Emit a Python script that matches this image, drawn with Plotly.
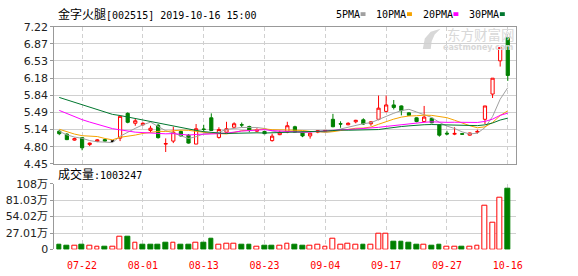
import numpy as np
import pandas as pd
import plotly.graph_objects as go

W, H = 578, 276

# ---------------- data ----------------
dates = ["07-17", "07-18", "07-19", "07-22", "07-23", "07-24", "07-25", "07-26", "07-29", "07-30",
         "07-31", "08-01", "08-02", "08-05", "08-06", "08-07", "08-08", "08-09", "08-12", "08-13",
         "08-14", "08-15", "08-16", "08-19", "08-20", "08-21", "08-22", "08-23", "08-26", "08-27",
         "08-28", "08-29", "08-30", "09-02", "09-03", "09-04", "09-05", "09-06", "09-09", "09-10",
         "09-11", "09-12", "09-16", "09-17", "09-18", "09-19", "09-20", "09-23", "09-24", "09-25",
         "09-26", "09-27", "09-30", "10-08", "10-09", "10-10", "10-11", "10-14", "10-15", "10-16"]

open_ = [5.11, 5.05, 4.93, 4.98, 4.84, 4.905, 4.94, 4.91, 4.97, 5.47,
         5.27, 5.24, 5.125, 5.23, 4.85, 4.91, 5.105, 5.03, 4.85, 5.155,
         5.38, 4.985, 5.09, 5.19, 5.24, 5.205, 5.11, 5.105, 4.92, 5.04,
         5.09, 5.20, 5.09, 5.015, 5.09, 5.11, 5.35, 5.26, 5.24, 5.30,
         5.34, 5.26, 5.35, 5.51, 5.64, 5.62, 5.48, 5.38, 5.305, 5.37,
         5.24, 5.07, 5.05, 5.06, 5.03, 5.09, 5.35, 5.86, 6.53, 7.00]
high = [5.13, 5.07, 4.98, 4.99, 4.88, 4.95, 4.96, 4.93, 5.41, 5.49,
        5.36, 5.29, 5.22, 5.255, 4.965, 5.20, 5.125, 5.05, 5.255, 5.24,
        5.47, 5.19, 5.30, 5.29, 5.285, 5.22, 5.17, 5.12, 5.06, 5.12,
        5.30, 5.22, 5.10, 5.08, 5.13, 5.13, 5.46, 5.31, 5.29, 5.34,
        5.37, 5.31, 5.83, 5.83, 5.74, 5.63, 5.49, 5.39, 5.62, 5.38,
        5.25, 5.12, 5.19, 5.07, 5.08, 5.14, 5.62, 6.18, 6.80, 7.00]
low = [5.03, 4.93, 4.92, 4.725, 4.81, 4.89, 4.90, 4.89, 4.91, 5.27,
       5.22, 5.22, 5.09, 4.96, 4.69, 4.87, 5.00, 4.86, 4.85, 5.10,
       5.115, 4.96, 5.08, 5.18, 5.19, 5.09, 5.09, 5.05, 4.90, 5.03,
       5.07, 5.08, 4.99, 4.96, 5.07, 5.10, 5.19, 5.18, 5.23, 5.27,
       5.24, 5.22, 5.33, 5.49, 5.55, 5.43, 5.42, 5.29, 5.29, 5.27,
       5.00, 5.03, 5.03, 5.04, 5.02, 5.06, 5.255, 5.78, 6.415, 6.125]
close = [5.06, 4.94, 4.96, 4.775, 4.87, 4.935, 4.91, 4.91, 5.41, 5.29,
         5.32, 5.27, 5.17, 4.98, 4.86, 5.09, 5.015, 4.87, 5.16, 5.145,
         5.125, 5.145, 5.16, 5.26, 5.235, 5.13, 5.14, 5.06, 5.01, 5.09,
         5.22, 5.09, 5.015, 5.07, 5.12, 5.125, 5.20, 5.255, 5.27, 5.33,
         5.255, 5.30, 5.575, 5.64, 5.59, 5.525, 5.43, 5.305, 5.395, 5.28,
         5.03, 5.055, 5.065, 5.05, 5.075, 5.105, 5.62, 6.18, 6.80, 6.235]
# volume in 万 (10k) units
volume_wan = [8.6, 5.5, 5.5, 8.6, 5.5, 3.9, 3.9, 3.9, 21.1, 21.1,
              11.7, 8.1, 8.6, 8.6, 11.7, 11.7, 7.0, 7.0, 11.7, 11.7,
              18.0, 8.6, 9.7, 9.7, 7.0, 8.6, 5.0, 5.5, 5.5, 5.5,
              9.4, 8.6, 5.5, 5.5, 7.0, 5.0, 17.5, 8.6, 9.7, 8.1,
              8.6, 8.6, 25.8, 25.8, 13.3, 13.3, 10.6, 7.0, 8.1, 5.5,
              8.6, 3.9, 3.9, 3.9, 3.9, 5.5, 72.3, 44.2, 85.3, 100.3247]
# closes of the 29 sessions before the window (estimated from the MA lines)
prior_close = [6.35, 6.30, 6.40, 6.30, 6.45, 6.40, 6.35, 6.10, 6.20, 6.30,
               6.20, 6.20, 6.00, 5.85, 5.80, 5.75, 5.85, 5.90, 5.90, 5.65,
               5.45, 5.42, 5.10, 4.98, 5.00, 5.30, 5.18, 4.90, 5.10]

y_tick_labels = ["4.45", "4.80", "5.14", "5.49", "5.84", "6.18", "6.53", "6.87", "7.22"]
vol_tick_labels = ["0", "27.01万", "54.02万", "81.03万", "108万"]
vol_tick_values = [0, 27.01, 54.02, 81.03, 108.04]
x_tick_every = 8
x_tick_start = 3

ma_periods = [5, 10, 20, 30]
ma_names = ["5PMA", "10PMA", "20PMA", "30PMA"]
ma_colors = ["#a0a0a0", "#f5a300", "#ff00ff", "#00772f"]

title_name = "金字火腿"
title_rest = "[002515] 2019-10-16 15:00"
vol_label = "成交量"
vol_value = "1003247"

RED = "#ff0000"
GREEN = "#008000"


def px(x):
    return x / W


def py(y):
    return 1 - y / H


n = len(dates)
xs = np.arange(n)
full_close = pd.Series(prior_close + close)
prev_close = [prior_close[-1]] + close[:-1]
vol_up = [c >= p for c, p in zip(close, prev_close)]
flat = [o == c for o, c in zip(open_, close)]

fig = go.Figure()

# candles (non-flat)
fig.add_trace(go.Candlestick(
    x=xs,
    open=[None if f else v for f, v in zip(flat, open_)],
    high=[None if f else v for f, v in zip(flat, high)],
    low=[None if f else v for f, v in zip(flat, low)],
    close=[None if f else v for f, v in zip(flat, close)],
    increasing=dict(line=dict(color=RED, width=1), fillcolor="#ffffff"),
    decreasing=dict(line=dict(color=GREEN, width=1), fillcolor=GREEN),
    whiskerwidth=0, hoverinfo="skip", xaxis="x", yaxis="y"))
# flat (doji) candles in black
fig.add_trace(go.Candlestick(
    x=[x for x, f in zip(xs, flat) if f],
    open=[v for f, v in zip(flat, open_) if f],
    high=[v for f, v in zip(flat, high) if f],
    low=[v for f, v in zip(flat, low) if f],
    close=[v for f, v in zip(flat, close) if f],
    increasing=dict(line=dict(color="#000000", width=1), fillcolor="#000000"),
    decreasing=dict(line=dict(color="#000000", width=1), fillcolor="#000000"),
    whiskerwidth=0, hoverinfo="skip", xaxis="x", yaxis="y"))

for p, c in zip(ma_periods, ma_colors):
    ma = full_close.rolling(p).mean().iloc[-n:].to_numpy()
    fig.add_trace(go.Scatter(x=xs, y=ma, mode="lines", line=dict(color=c, width=1),
                             hoverinfo="skip", xaxis="x", yaxis="y"))

fig.add_trace(go.Bar(
    x=xs, y=volume_wan, width=0.62,
    marker=dict(color=["#ffffff" if u else GREEN for u in vol_up],
                line=dict(color=[RED if u else GREEN for u in vol_up], width=1)),
    hoverinfo="skip", xaxis="x2", yaxis="y2"))

x_dom = [px(55), px(522)]
x_rng = [-0.65, n - 1 + 1.04]
tick_idx = list(range(x_tick_start, n, x_tick_every))
grid_dash = "4px,3px"
grid_col = "#d0d0d0"
frame_col = "#999999"
lab_font = dict(family="DejaVu Sans, Noto Sans CJK SC", size=11, color="#222222")
mono = "DejaVu Sans Mono, Noto Sans CJK SC"

y_lo, y_hi = float(y_tick_labels[0]), float(y_tick_labels[-1])

fig.update_layout(
    width=W, height=H, margin=dict(l=0, r=0, t=0, b=0),
    paper_bgcolor="#ffffff", plot_bgcolor="#ffffff",
    showlegend=False, boxgap=0.4, bargap=0,
    xaxis=dict(domain=x_dom, range=x_rng, anchor="y", tickvals=tick_idx,
               showticklabels=False, ticks="", showgrid=True, gridcolor=grid_col,
               griddash=grid_dash, gridwidth=1, showline=True, mirror=True,
               linecolor=frame_col, linewidth=1, zeroline=False,
               rangeslider=dict(visible=False), fixedrange=True),
    yaxis=dict(domain=[py(165.7), py(21.7)], range=[y_lo, y_hi], anchor="x",
               tickvals=list(np.linspace(y_lo, y_hi, len(y_tick_labels))),
               ticktext=y_tick_labels, ticks="outside", ticklen=3, tickcolor=frame_col,
               tickfont=lab_font, showgrid=True, gridcolor=grid_col, showline=True,
               mirror=True, linecolor=frame_col, zeroline=False, fixedrange=True),
    xaxis2=dict(domain=x_dom, range=x_rng, anchor="y2", matches="x", tickvals=tick_idx,
                ticktext=[dates[i] for i in tick_idx], ticks="", ticklabelstandoff=9,
                tickfont=dict(family=mono, size=10, color=RED),
                showgrid=True, gridcolor=grid_col, griddash=grid_dash, showline=False,
                zeroline=False, fixedrange=True),
    yaxis2=dict(domain=[py(255.5), py(186.5)], range=[0, vol_tick_values[-1]], anchor="x2",
                tickvals=vol_tick_values, ticktext=vol_tick_labels, ticks="outside", ticklen=3,
                tickcolor=frame_col, tickfont=lab_font, showgrid=True, gridcolor=grid_col,
                showline=True, linecolor=frame_col, zeroline=True,
                zerolinecolor="rgba(0,0,0,0)", fixedrange=True),
)

ann = []
shapes = []
ann.append(dict(x=px(57), y=py(8.5), xref="paper", yref="paper", xanchor="left",
                yanchor="middle", showarrow=False,
                text=f'<span style="font-size:12px">{title_name}</span>{title_rest}',
                font=dict(family=mono, size=10, color="#000000")))
ann.append(dict(x=px(57), y=py(177), xref="paper", yref="paper", xanchor="left",
                yanchor="middle", showarrow=False,
                text=f'<span style="font-size:12px">{vol_label}</span>:{vol_value}',
                font=dict(family=mono, size=10, color="#000000")))
# legend
lx = 338
for name, col in zip(ma_names, ma_colors):
    ann.append(dict(x=px(lx), y=py(8.5), xref="paper", yref="paper", xanchor="left",
                    yanchor="middle", showarrow=False, text=name,
                    font=dict(family=mono, size=10, color="#000000")))
    sx = lx + 6 * len(name) + 3
    shapes.append(dict(type="rect", xref="paper", yref="paper", x0=px(sx), x1=px(sx + 5),
                       y0=py(10.5), y1=py(6.5), fillcolor=col, line=dict(width=0)))
    lx = sx + 5 + 9

# watermark (light grey logo + text)
wm_col = "#d8d8d8"
logo_pts = [(428, 45), (430, 34), (436, 27), (446, 24), (440, 30), (437, 37), (436, 45)]
path = "M " + " L ".join(f"{px(a):.5f},{py(b):.5f}" for a, b in logo_pts) + " Z"
shapes.append(dict(type="path", xref="paper", yref="paper", path=path,
                   fillcolor=wm_col, line=dict(width=0), layer="below"))
ann.append(dict(x=px(523), y=py(29.5), xref="paper", yref="paper", xanchor="right",
                yanchor="middle", showarrow=False, text="东方财富网",
                font=dict(family="Noto Sans CJK SC", size=13.5, color=wm_col)))
ann.append(dict(x=px(521), y=py(44), xref="paper", yref="paper", xanchor="right",
                yanchor="middle", showarrow=False, text="<b>eastmoney.com</b>",
                font=dict(family="DejaVu Sans", size=8, color=wm_col)))
fig.update_layout(annotations=ann, shapes=shapes)

fig.write_html("out.html")
